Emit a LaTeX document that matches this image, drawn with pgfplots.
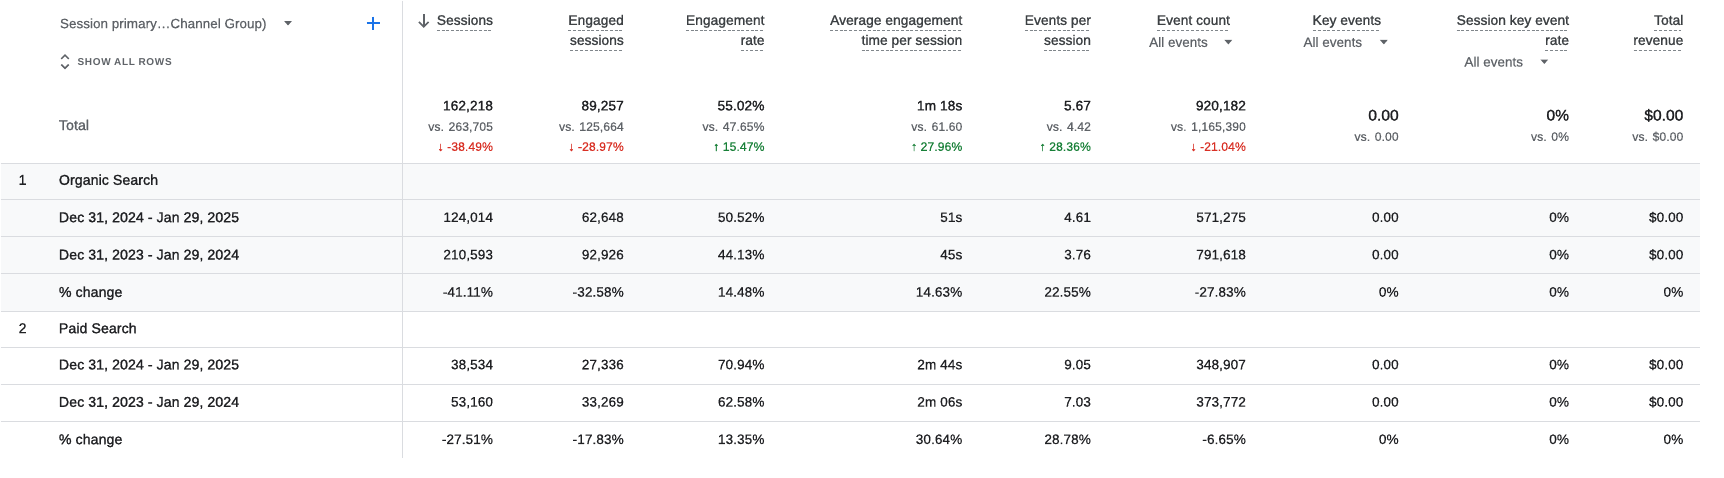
\documentclass[border=0pt]{standalone}
\usepackage{pgfplots}
\pgfplotsset{compat=1.18}
\usepackage{pgfplotstable}
\usepackage{fontspec}
\setmainfont{Liberation Sans}
\newfontfamily\medfont[FakeBold=1.3]{Liberation Sans}
\newfontfamily\regfont[FakeBold=0.3]{Liberation Sans}
\newfontfamily\capsfont[LetterSpace=7]{Liberation Sans}
\definecolor{txt}{HTML}{202124}
\definecolor{hdr}{HTML}{3C4043}
\definecolor{sub}{HTML}{5F6368}
\definecolor{gred}{HTML}{D93025}
\definecolor{ggreen}{HTML}{188038}
\definecolor{gridc}{HTML}{DADCE0}
\definecolor{rowbg}{HTML}{F8F9FA}
\definecolor{gblue}{HTML}{1A73E8}
\definecolor{dashc}{HTML}{80868B}
\protected\def\fs#1{\fontsize{#1bp}{#1bp}\selectfont}
\protected\def\dul#1{\setbox0=\hbox{#1}\dp0=0pt\vtop{\offinterlineskip\copy0\kern4.4bp\hbox to\wd0{\color{dashc}\xleaders\hbox to 4.2bp{\vrule width 2.7bp height 0.9bp depth 0pt\hfil}\hfill}}}

% ---------- header ----------
\pgfplotstableread{
x y t
448 22.1 {\dul{Sessions}}
567 22.1 {\dul{Engaged}}
567 40.3 {\dul{sessions}}
695 22.1 {\dul{Engagement}}
695 40.3 {\dul{rate}}
875 22.1 {\dul{Average engagement}}
875 40.3 {\dul{time per session}}
992 22.1 {\dul{Events per}}
992 40.3 {\dul{session}}
1118.5 22.1 {\dul{Event count}}
1256 22.1 {\dul{Key events}}
1427 22.1 {\dul{Session key event}}
1427 40.3 {\dul{rate}}
1531 22.1 {\dul{Total}}
1531 40.3 {\dul{revenue}}
}\hdrtab
\pgfplotstableread{
x y t
1045 42.1 {All events}
1185.4 42.1 {All events}
1331.8 60.0 {All events}
54 25.1 {Session primary…Channel Group)}
}\subtab
% ---------- total ----------
\pgfplotstableread{
x y t
448 99.9 162,218
567 99.9 89,257
695 99.9 55.02\%
875 99.9 {1m 18s}
992 99.9 5.67
1133 99.9 920,182
}\totA
\pgfplotstableread{
x y t
1272 109.2 0.00
1427 109.2 0\%
1531 109.2 \$0.00
}\totK
\pgfplotstableread{
x y t
448 118.5 {vs. 263,705}
567 118.5 {vs. 125,664}
695 118.5 {vs. 47.65\%}
875 118.5 {vs. 61.60}
992 118.5 {vs. 4.42}
1133 118.5 {vs. 1,165,390}
1272 127.6 {vs. 0.00}
1427 127.6 {vs. 0\%}
1531 127.6 {vs. \$0.00}
}\totB
\pgfplotstableread{
x y t
448 136.7 {↓ -38.49\%}
567 136.7 {↓ -28.97\%}
1133 136.7 {↓ -21.04\%}
}\totDown
\pgfplotstableread{
x y t
695 136.7 {↑ 15.47\%}
875 136.7 {↑ 27.96\%}
992 136.7 {↑ 28.36\%}
}\totUp
% ---------- row labels ----------
\pgfplotstableread{
x y t
53 167.6 {Organic Search}
53 201.6 {Dec 31, 2024 - Jan 29, 2025}
53 235.6 {Dec 31, 2023 - Jan 29, 2024}
53 269.6 {\% change}
53 302.6 {Paid Search}
53 335.6 {Dec 31, 2024 - Jan 29, 2025}
53 369.6 {Dec 31, 2023 - Jan 29, 2024}
53 403.6 {\% change}
}\labtab
% ---------- Organic Search ----------
\pgfplotstableread{
x y t
448 201.4 124,014
567 201.4 62,648
695 201.4 50.52\%
875 201.4 51s
992 201.4 4.61
1133 201.4 571,275
1272 201.4 0.00
1427 201.4 0\%
1531 201.4 \$0.00
}\orgA
\pgfplotstableread{
x y t
448 235.4 210,593
567 235.4 92,926
695 235.4 44.13\%
875 235.4 45s
992 235.4 3.76
1133 235.4 791,618
1272 235.4 0.00
1427 235.4 0\%
1531 235.4 \$0.00
}\orgB
\pgfplotstableread{
x y t
448 269.4 -41.11\%
567 269.4 -32.58\%
695 269.4 14.48\%
875 269.4 14.63\%
992 269.4 22.55\%
1133 269.4 -27.83\%
1272 269.4 0\%
1427 269.4 0\%
1531 269.4 0\%
}\orgC
% ---------- Paid Search ----------
\pgfplotstableread{
x y t
448 335.4 38,534
567 335.4 27,336
695 335.4 70.94\%
875 335.4 {2m 44s}
992 335.4 9.05
1133 335.4 348,907
1272 335.4 0.00
1427 335.4 0\%
1531 335.4 \$0.00
}\paidA
\pgfplotstableread{
x y t
448 369.4 53,160
567 369.4 33,269
695 369.4 62.58\%
875 369.4 {2m 06s}
992 369.4 7.03
1133 369.4 373,772
1272 369.4 0.00
1427 369.4 0\%
1531 369.4 \$0.00
}\paidB
\pgfplotstableread{
x y t
448 403.4 -27.51\%
567 403.4 -17.83\%
695 403.4 13.35\%
875 403.4 30.64\%
992 403.4 28.78\%
1133 403.4 -6.65\%
1272 403.4 0\%
1427 403.4 0\%
1531 403.4 0\%
}\paidC

\pgfplotsset{
  txtplot/.style={draw=none, mark=none, forget plot, nodes near coords,
    point meta=explicit symbolic,
    every node near coord/.append style={inner sep=0pt, outer sep=0pt, #1}},
}

\begin{document}
\begin{tikzpicture}
\begin{axis}[
  width=1568bp, height=433.8bp, scale only axis,
  xmin=0, xmax=1568, ymin=0, ymax=433.8, y dir=reverse,
  hide axis, clip=false,
]
% background and rules
\fill[white] (axis cs:0,0) rectangle (axis cs:1568,433.8);
\fill[rowbg] (axis cs:0,148) rectangle (axis cs:1546,282.5);
\pgfplotsinvokeforeach{148,181.3,214.7,248.6,282.5,315.5,349,383}{
  \draw[gridc, line width=1.1bp] (axis cs:0,#1) -- (axis cs:1546,#1);
}
\draw[gridc, line width=1.1bp] (axis cs:365.5,0) -- (axis cs:365.5,416);
% icons
\draw[gblue, line width=1.9bp] (axis cs:333,20.6) -- (axis cs:345,20.6);
\draw[gblue, line width=1.9bp] (axis cs:339,14.6) -- (axis cs:339,26.6);
\fill[sub] (axis cs:258,18.6) -- (axis cs:265,18.6) -- (axis cs:261.5,22.6) -- cycle;
\fill[sub] (axis cs:1113.5,35.8) -- (axis cs:1120.5,35.8) -- (axis cs:1117,39.8) -- cycle;
\fill[sub] (axis cs:1255,35.8) -- (axis cs:1262,35.8) -- (axis cs:1258.5,39.8) -- cycle;
\fill[sub] (axis cs:1401,53.6) -- (axis cs:1408,53.6) -- (axis cs:1404.5,57.6) -- cycle;
\draw[sub, line width=1.4bp] (axis cs:55.2,53) -- (axis cs:58.6,49.6) -- (axis cs:62,53);
\draw[sub, line width=1.4bp] (axis cs:55.2,58.2) -- (axis cs:58.6,61.6) -- (axis cs:62,58.2);
\draw[sub, line width=1.5bp] (axis cs:385,12.4) -- (axis cs:385,23.8);
\draw[sub, line width=1.5bp] (axis cs:380.6,19.4) -- (axis cs:385,23.8) -- (axis cs:389.4,19.4);

% header texts
\addplot[txtplot={anchor=base east, font=\medfont\fs{12.6}, text=hdr}] table[x=x, y=y, meta=t] {\hdrtab};
\addplot[txtplot={anchor=base west, font=\regfont\fs{12.3}, text=sub}] table[x=x, y=y, meta=t] {\subtab};
\addplot[txtplot={anchor=base west, font=\capsfont\bfseries\fs{9.1}, text=sub}] coordinates {(70,58.9) [SHOW ALL ROWS]};
% total row
\addplot[txtplot={anchor=base west, font=\medfont\fs{13}, text=sub}] coordinates {(53,117.8) [Total]};
\addplot[txtplot={anchor=base east, font=\medfont\fs{12.6}, text=txt}] table[x=x, y=y, meta=t] {\totA};
\addplot[txtplot={anchor=base east, font=\medfont\fs{14.2}, text=txt}] table[x=x, y=y, meta=t] {\totK};
\addplot[txtplot={anchor=base east, font=\regfont\fs{11.2}, text=sub}] table[x=x, y=y, meta=t] {\totB};
\addplot[txtplot={anchor=base east, font=\regfont\fs{11.2}, text=gred}] table[x=x, y=y, meta=t] {\totDown};
\addplot[txtplot={anchor=base east, font=\regfont\fs{11.2}, text=ggreen}] table[x=x, y=y, meta=t] {\totUp};
% row labels
\addplot[txtplot={anchor=base, font=\regfont\fs{13}, text=txt}] coordinates {(20,167.6) [1] (20,302.6) [2]};
\addplot[txtplot={anchor=base west, font=\medfont\fs{13}, text=txt}] table[x=x, y=y, meta=t] {\labtab};
% values
\addplot[txtplot={anchor=base east, font=\regfont\fs{12.5}, text=txt}] table[x=x, y=y, meta=t] {\orgA};
\addplot[txtplot={anchor=base east, font=\regfont\fs{12.5}, text=txt}] table[x=x, y=y, meta=t] {\orgB};
\addplot[txtplot={anchor=base east, font=\regfont\fs{12.5}, text=txt}] table[x=x, y=y, meta=t] {\orgC};
\addplot[txtplot={anchor=base east, font=\regfont\fs{12.5}, text=txt}] table[x=x, y=y, meta=t] {\paidA};
\addplot[txtplot={anchor=base east, font=\regfont\fs{12.5}, text=txt}] table[x=x, y=y, meta=t] {\paidB};
\addplot[txtplot={anchor=base east, font=\regfont\fs{12.5}, text=txt}] table[x=x, y=y, meta=t] {\paidC};
\end{axis}
\end{tikzpicture}
\end{document}
